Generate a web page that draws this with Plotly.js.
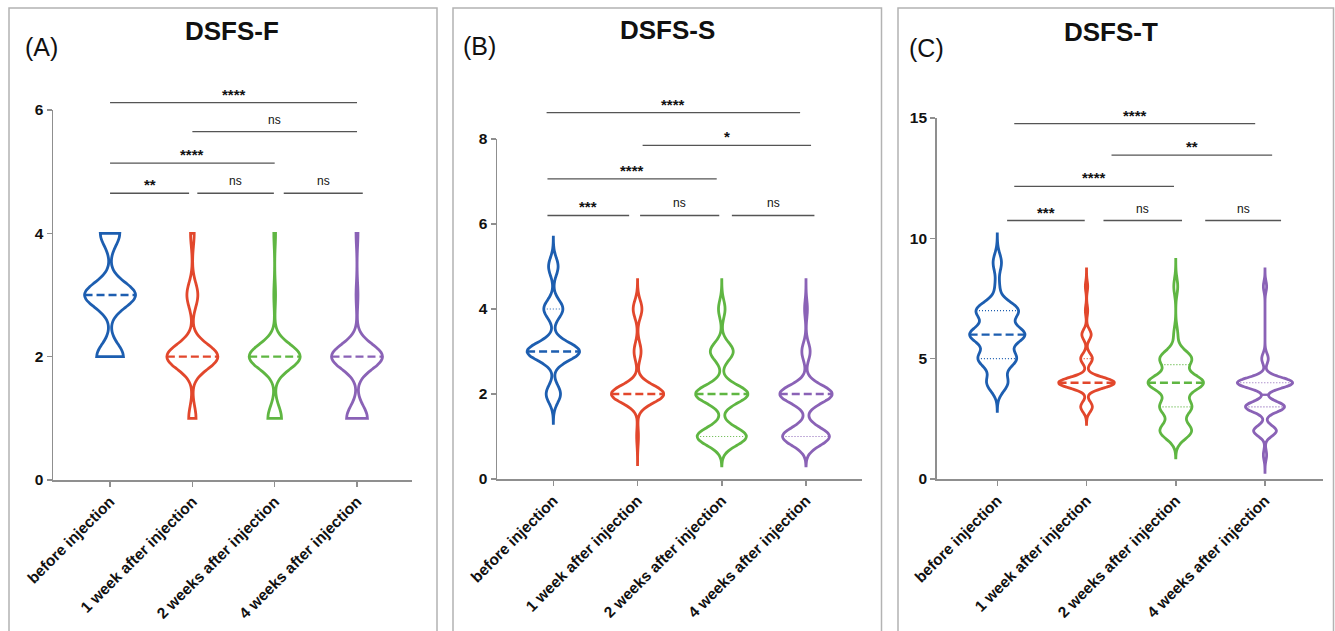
<!DOCTYPE html>
<html>
<head>
<meta charset="utf-8">
<script src="https://cdn.plot.ly/plotly-3.0.1.min.js"></script>
<style>
html,body{margin:0;padding:0;background:#ffffff;}
#chart{width:1335px;height:631px;}
</style>
</head>
<body>
<div id="chart"></div>
<script>
// ---------------- DATA ----------------
const categories = ["before injection", "1 week after injection", "2 weeks after injection", "4 weeks after injection"];
const panelTitles = ["DSFS-F", "DSFS-S", "DSFS-T"];
const panelLetters = ["(A)", "(B)", "(C)"];

// DSFS-F : number of patients at each score
const levelsF = [1, 2, 3, 4];
const countsF_before = [0, 11, 21, 8];
const countsF_1week  = [4, 28, 6, 2];
const countsF_2weeks = [8, 30, 1, 1];
const countsF_4weeks = [11, 27, 1, 1];

// DSFS-S
const levelsS = [1, 2, 3, 4, 5];
const countsS_before = [0, 6, 22, 8, 4];
const countsS_1week  = [1, 30, 4, 5, 0];
const countsS_2weeks = [15, 16, 7, 2, 0];
const countsS_4weeks = [17, 19, 3, 1, 0];

// DSFS-T
const levelsT = [1, 2, 3, 4, 5, 6, 7, 8, 9];
const countsT_before = [0, 0, 0, 5, 9, 13, 10, 1, 2];
const countsT_1week  = [0, 0, 5, 24, 5, 4, 1, 1, 0];
const countsT_2weeks = [0, 8, 8, 14, 8, 1, 0, 1, 0];
const countsT_4weeks = [1, 7, 12, 17, 2, 0, 0, 1, 0];

// y tick labels
const ticksF = [0, 2, 4, 6];
const ticksS = [0, 2, 4, 6, 8];
const ticksT = [0, 5, 10, 15];

// significance comparisons: group from, group to, label
const sigF_from  = [0, 1, 0, 0, 1, 2];
const sigF_to    = [3, 3, 2, 1, 2, 3];
const sigF_label = ["****", "ns", "****", "**", "ns", "ns"];
const sigS_from  = [0, 1, 0, 0, 1, 2];
const sigS_to    = [3, 3, 2, 1, 2, 3];
const sigS_label = ["****", "*", "****", "***", "ns", "ns"];
const sigT_from  = [0, 1, 0, 0, 1, 2];
const sigT_to    = [3, 3, 2, 1, 2, 3];
const sigT_label = ["****", "**", "****", "***", "ns", "ns"];

// ---------------- STYLE / LAYOUT PARAMETERS ----------------
const colors = ["#1d5eb0", "#e2472c", "#5fb642", "#8a62b6"];
const FONT = "Liberation Sans, Arial, Helvetica, sans-serif";
const violinWidth = 0.62;

// bar drawing geometry (positions in axis units, relative to groups)
const sigGeom = [
  { ymax: 6,  level: [6.12, 5.65, 5.14, 4.65, 4.65, 4.65],
    dx0: [0, 0, 0, 0, 0.06, 0.11], dx1: [0, 0, 0, -0.04, -0.01, 0.07] },
  { ymax: 8,  level: [8.62, 7.85, 7.06, 6.2, 6.2, 6.2],
    dx0: [-0.08, 0.06, -0.07, -0.07, 0.03, 0.12], dx1: [-0.07, 0.06, -0.06, -0.10, -0.03, 0.10] },
  { ymax: 15, level: [14.77, 13.46, 12.16, 10.74, 10.74, 10.74],
    dx0: [0.19, 0.28, 0.19, 0.11, 0.19, 0.33], dx1: [-0.11, 0.08, -0.02, -0.02, 0.07, 0.18] }
];

const panels = [
  { levels: levelsF, counts: [countsF_before, countsF_1week, countsF_2weeks, countsF_4weeks],
    ticks: ticksF, ymax: 6, bw: [0.2, 0.2, 0.2, 0.2], hard: true,
    sigFrom: sigF_from, sigTo: sigF_to, sigLabel: sigF_label,
    xdom: [53, 412], xr: [-0.693, 3.668], ydom: [480, 110],
    box: [9, 437], title: [232, 31], letter: [23, 47] },
  { levels: levelsS, counts: [countsS_before, countsS_1week, countsS_2weeks, countsS_4weeks],
    ticks: ticksS, ymax: 8, bw: [0.21, 0.21, 0.21, 0.21], hard: false,
    sigFrom: sigS_from, sigTo: sigS_to, sigLabel: sigS_label,
    xdom: [497, 862], xr: [-0.669, 3.665], ydom: [479, 139],
    box: [453, 881.5], title: [667.5, 30], letter: [461, 46] },
  { levels: levelsT, counts: [countsT_before, countsT_1week, countsT_2weeks, countsT_4weeks],
    ticks: ticksT, ymax: 15, bw: [0.36, 0.22, 0.34, 0.22], hard: false,
    sigFrom: sigT_from, sigTo: sigT_to, sigLabel: sigT_label,
    xdom: [936.7, 1323], xr: [-0.679, 3.65], ydom: [479, 118],
    box: [898, 1333.5], title: [1111, 32], letter: [907, 48] }
];

const W = 1335, H = 631;
const px = v => v / W;
const py = v => 1 - v / H;

// ---------------- HELPERS ----------------
function expand(levels, counts) {
  const out = [];
  levels.forEach((lv, i) => { for (let k = 0; k < counts[i]; k++) out.push(lv); });
  return out;
}
function kde(vals, bw, x) {
  let s = 0;
  for (const v of vals) { const u = (x - v) / bw; s += Math.exp(-0.5 * u * u); }
  return s / (vals.length * bw * Math.sqrt(2 * Math.PI));
}
function maxKDE(vals, bw, span) {
  const dist = span[1] - span[0];
  const n = Math.ceil(dist / (bw / 3));
  const step = dist / n;
  let m = 0;
  for (let t = span[0]; t < span[1] + step / 2; t += step) m = Math.max(m, kde(vals, bw, t));
  return m;
}
function quantile(sorted, p) {            // (n+1)p rule with interpolation
  const n = sorted.length;
  let pos = p * (n + 1);
  if (pos <= 1) return sorted[0];
  if (pos >= n) return sorted[n - 1];
  const lo = Math.floor(pos), f = pos - lo;
  return sorted[lo - 1] + f * (sorted[lo] - sorted[lo - 1]);
}

// ---------------- BUILD ----------------
const traces = [];
const shapes = [];
const annotations = [];
const layout = {
  width: W, height: H,
  margin: { l: 0, r: 0, t: 0, b: 0 },
  paper_bgcolor: "#ffffff", plot_bgcolor: "rgba(0,0,0,0)",
  showlegend: false,
  font: { family: FONT, color: "#111111" }
};

panels.forEach((P, pi) => {
  const sfx = pi === 0 ? "" : String(pi + 1);
  const xa = "x" + sfx, ya = "y" + sfx;

  layout["xaxis" + sfx] = {
    domain: [px(P.xdom[0]), px(P.xdom[1])], range: P.xr, anchor: ya,
    tickmode: "array", tickvals: [0, 1, 2, 3], ticktext: categories, tickangle: -45,
    showline: true, linecolor: "#8f8f8f", linewidth: 1.5,
    ticks: "outside", ticklen: 5, tickwidth: 1.5, tickcolor: "#8f8f8f",
    showgrid: false, zeroline: false, fixedrange: true,
    tickfont: { family: FONT, size: 15.5, color: "#111111", weight: "bold" }
  };
  layout["yaxis" + sfx] = {
    domain: [py(P.ydom[0]), py(P.ydom[1])], range: [0, P.ymax], anchor: xa,
    tickmode: "array", tickvals: P.ticks, ticktext: P.ticks.map(String),
    showline: true, linecolor: "#8f8f8f", linewidth: 1.5,
    ticks: "outside", ticklen: 5, tickwidth: 1.5, tickcolor: "#8f8f8f",
    showgrid: false, zeroline: false, fixedrange: true,
    tickfont: { family: FONT, size: 15.5, color: "#111111", weight: "bold" }
  };

  // panel frame
  shapes.push({ type: "rect", xref: "paper", yref: "paper",
    x0: px(P.box[0]), x1: px(P.box[1]), y0: -0.05, y1: py(8),
    line: { color: "#b3b3b3", width: 1.5 }, fillcolor: "rgba(0,0,0,0)" });

  // titles
  annotations.push({ xref: "paper", yref: "paper", x: px(P.title[0]), y: py(P.title[1]),
    xanchor: "center", yanchor: "middle", showarrow: false, text: panelTitles[pi],
    font: { family: FONT, size: 26, color: "#111111", weight: "bold" } });
  annotations.push({ xref: "paper", yref: "paper", x: px(P.letter[0]), y: py(P.letter[1]),
    xanchor: "left", yanchor: "middle", showarrow: false, text: panelLetters[pi],
    font: { family: FONT, size: 25, color: "#111111" } });

  // violins
  P.counts.forEach((cnt, g) => {
    const vals = expand(P.levels, cnt);
    const sorted = vals.slice().sort((a, b) => a - b);
    const bw = P.bw[g];
    const mn = sorted[0], mx = sorted[sorted.length - 1];
    const span = P.hard ? [mn, mx] : [mn - 3.3 * bw, mx + 3.3 * bw];
    traces.push({
      type: "violin", x0: g, y: vals, xaxis: xa, yaxis: ya, orientation: "v",
      width: violinWidth, bandwidth: bw, spanmode: "manual", span: span,
      scalegroup: "p" + pi + "g" + g,
      line: { color: colors[g], width: 2.8 }, fillcolor: "rgba(0,0,0,0)",
      points: false, box: { visible: false }, meanline: { visible: false },
      hoverinfo: "skip", showlegend: false
    });

    const mK = maxKDE(vals, bw, span);
    const half = q => (violinWidth / 2) * kde(vals, bw, q) / mK;
    const med = quantile(sorted, 0.5);
    const q1 = quantile(sorted, 0.25);
    const q3 = quantile(sorted, 0.75);
    [q1, q3].forEach(q => {
      if (Math.abs(q - med) < 1e-9) return;
      const h = half(q);
      traces.push({ type: "scatter", mode: "lines", xaxis: xa, yaxis: ya,
        x: [g - h, g + h], y: [q, q], hoverinfo: "skip", showlegend: false,
        line: { color: colors[g], width: 1.2, dash: "1px,2px" } });
    });
    const hm = half(med);
    traces.push({ type: "scatter", mode: "lines", xaxis: xa, yaxis: ya,
      x: [g - hm, g + hm], y: [med, med], hoverinfo: "skip", showlegend: false,
      line: { color: colors[g], width: 2.3, dash: "8px,4px" } });
  });

  // significance bars
  const G = sigGeom[pi];
  P.sigLabel.forEach((lab, i) => {
    const x0 = P.sigFrom[i] + G.dx0[i], x1 = P.sigTo[i] + G.dx1[i];
    const yd = G.level[i] / G.ymax;
    shapes.push({ type: "line", xref: xa, yref: ya + " domain",
      x0: x0, x1: x1, y0: yd, y1: yd, line: { color: "#555555", width: 1.3 } });
    const isNs = lab === "ns";
    annotations.push({ xref: xa, yref: ya + " domain", x: (x0 + x1) / 2, y: yd,
      xanchor: "center", yanchor: "bottom", showarrow: false, text: lab,
      yshift: isNs ? 3 : -2,
      font: { family: FONT, size: isNs ? 12 : 15, color: "#111111", weight: isNs ? "normal" : "bold" } });
  });
});

layout.shapes = shapes;
layout.annotations = annotations;

Plotly.newPlot("chart", traces, layout, { staticPlot: true, displayModeBar: false });
</script>
</body>
</html>
